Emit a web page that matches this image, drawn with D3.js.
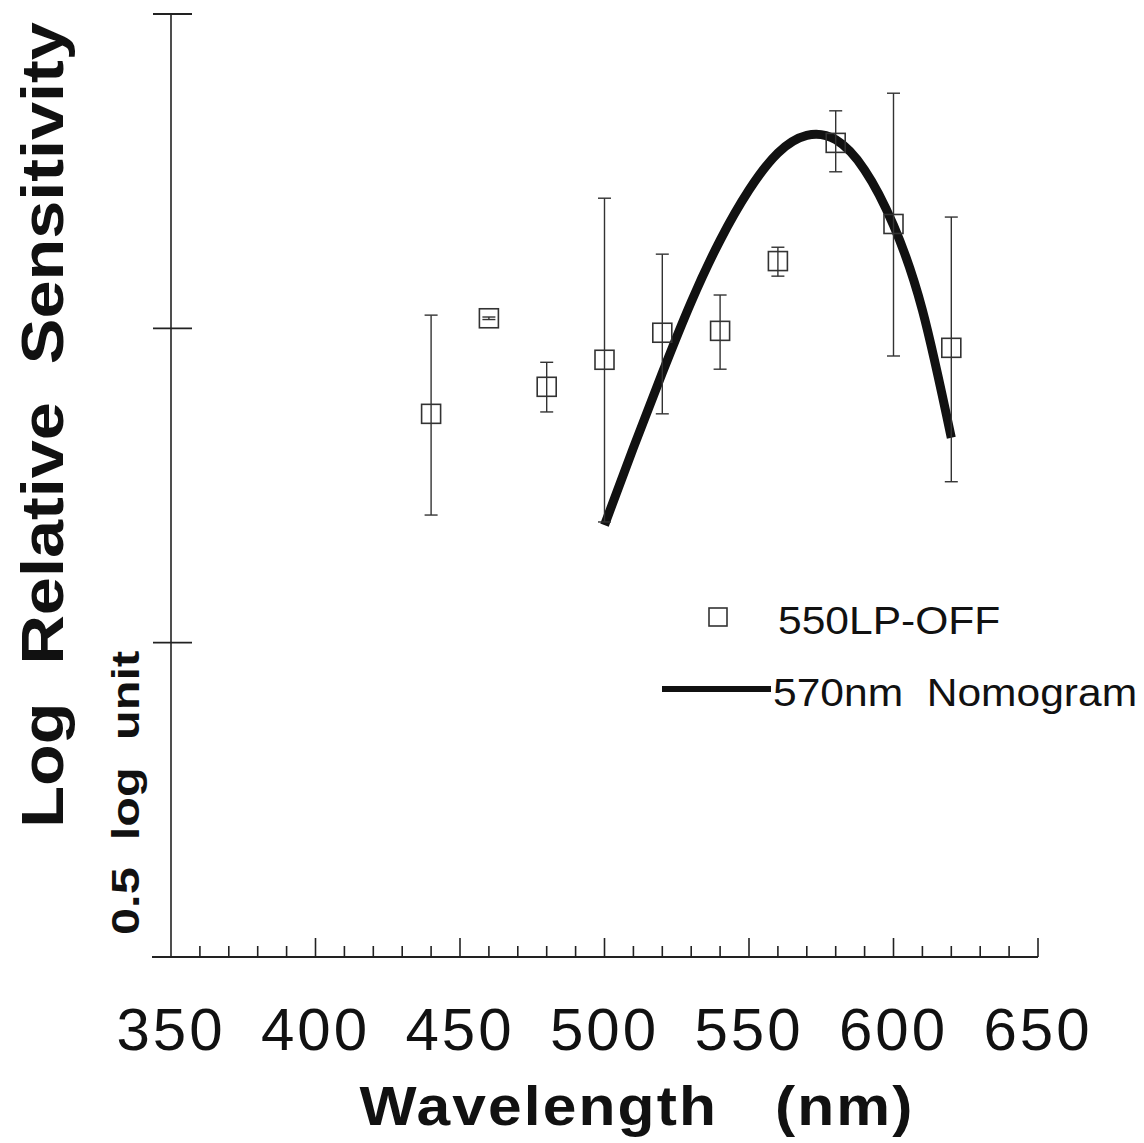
<!DOCTYPE html>
<html><head><meta charset="utf-8">
<script src="https://cdn.jsdelivr.net/npm/d3@7"></script>
<style>html,body{margin:0;padding:0;background:#fff;}svg{display:block;}</style>
</head><body>
<script>
// Data
const wavelengths = [440, 460, 480, 500, 520, 540, 560, 580, 600, 620];
const sensitivity = [0.864, 1.016, 0.907, 0.950, 0.993, 0.996, 1.107, 1.295, 1.166, 0.969];
const errHigh     = [1.021, 1.018, 0.946, 1.207, 1.118, 1.053, 1.129, 1.346, 1.374, 1.177];
const errLow      = [0.703, 1.014, 0.867, 0.692, 0.864, 0.935, 1.083, 1.249, 0.956, 0.756];
const nomoWl  = [500, 510, 520, 530, 540, 550, 560, 570, 580, 590, 600, 610, 620];
const nomoVal = [0.687, 0.810, 0.929, 1.042, 1.140, 1.220, 1.279, 1.307, 1.300, 1.252, 1.164, 1.029, 0.826];
const xTickLabels = [350, 400, 450, 500, 550, 600, 650];
const yTicks = [0, 0.5, 1.0, 1.5];

const W = 1144, H = 1143;
const FONT = "Liberation Sans, Arial, sans-serif";
const svg = d3.select("body").append("svg").attr("width", W).attr("height", H);
const x = d3.scaleLinear().domain([350, 650]).range([171, 1038]);
const y = d3.scaleLinear().domain([0, 1.5]).range([957, 14]);

const axisColor = "#222";
// Y axis line
svg.append("line").attr("x1", x(350)).attr("x2", x(350)).attr("y1", y(1.5)).attr("y2", y(0))
  .attr("stroke", axisColor).attr("stroke-width", 1.6);
// Y ticks (crossing)
svg.selectAll(".ytick").data(yTicks.filter(d => d > 0)).enter().append("line")
  .attr("x1", x(350) - 18).attr("x2", x(350) + 21)
  .attr("y1", d => y(d)).attr("y2", d => y(d))
  .attr("stroke", axisColor).attr("stroke-width", 1.8);
// X axis line
svg.append("line").attr("x1", x(350) - 19).attr("x2", x(650)).attr("y1", y(0)).attr("y2", y(0))
  .attr("stroke", axisColor).attr("stroke-width", 1.8);
// X ticks
const allTicks = d3.range(360, 651, 10);
svg.selectAll(".xtick").data(allTicks).enter().append("line")
  .attr("x1", d => x(d)).attr("x2", d => x(d))
  .attr("y1", y(0)).attr("y2", d => y(0) - (d % 50 === 0 ? 19 : 11))
  .attr("stroke", axisColor).attr("stroke-width", 1.6);
// X tick labels
svg.selectAll(".xlab").data(xTickLabels).enter().append("text")
  .attr("x", d => x(d)).attr("y", 1050)
  .attr("text-anchor", "middle")
  .attr("font-family", FONT)
  .attr("font-size", 60).attr("letter-spacing", 3).attr("fill", "#111")
  .text(d => d);
// X title
svg.append("text").attr("transform", "translate(637,1125) scale(1.08,1)").attr("text-anchor", "middle")
  .attr("font-family", FONT).attr("font-weight", "bold")
  .attr("font-size", 56).attr("letter-spacing", 2).attr("fill", "#111")
  .style("white-space", "pre")
  .text("Wavelength   (nm)");
// Y title
svg.append("text").attr("transform", "translate(63,425) rotate(-90) scale(1.14,1)")
  .attr("text-anchor", "middle")
  .attr("font-family", FONT).attr("font-weight", "bold")
  .attr("font-size", 60).attr("fill", "#111")
  .style("white-space", "pre")
  .text("Log  Relative  Sensitivity");
// 0.5 log unit label
svg.append("text").attr("transform", "translate(139,935) rotate(-90) scale(1.25,1)")
  .attr("text-anchor", "start")
  .attr("font-family", FONT).attr("font-weight", "bold")
  .attr("font-size", 39).attr("fill", "#111")
  .style("white-space", "pre")
  .text("0.5  log  unit");

// Nomogram curve
const line = d3.line().x((d, i) => x(nomoWl[i])).y(d => y(d)).curve(d3.curveNatural);
svg.append("path").datum(nomoVal).attr("d", line)
  .attr("fill", "none").attr("stroke", "#111").attr("stroke-width", 9).attr("stroke-linecap", "butt");

// Error bars
const cap = 6.5;
const g = svg.append("g").attr("stroke", "#333").attr("stroke-width", 1.4).attr("fill", "none");
wavelengths.forEach((w, i) => {
  const cx = x(w);
  g.append("line").attr("x1", cx).attr("x2", cx).attr("y1", y(errHigh[i])).attr("y2", y(errLow[i]));
  g.append("line").attr("x1", cx - cap).attr("x2", cx + cap).attr("y1", y(errHigh[i])).attr("y2", y(errHigh[i]));
  g.append("line").attr("x1", cx - cap).attr("x2", cx + cap).attr("y1", y(errLow[i])).attr("y2", y(errLow[i]));
});
// Squares
const s = 19;
svg.selectAll(".pt").data(wavelengths).enter().append("rect")
  .attr("x", d => x(d) - s / 2).attr("y", (d, i) => y(sensitivity[i]) - s / 2)
  .attr("width", s).attr("height", s)
  .attr("fill", "none").attr("stroke", "#333").attr("stroke-width", 1.6);

// Legend
svg.append("rect").attr("x", 709).attr("y", 608).attr("width", 18).attr("height", 18)
  .attr("fill", "none").attr("stroke", "#333").attr("stroke-width", 1.6);
svg.append("text").attr("transform", "translate(778,634) scale(1.12,1)")
  .attr("font-family", FONT).attr("font-size", 38).attr("fill", "#111")
  .text("550LP-OFF");
svg.append("line").attr("x1", 662).attr("x2", 771).attr("y1", 689).attr("y2", 689)
  .attr("stroke", "#111").attr("stroke-width", 6);
svg.append("text").attr("transform", "translate(773,706) scale(1.12,1)")
  .attr("font-family", FONT).attr("font-size", 38).attr("fill", "#111")
  .style("white-space", "pre")
  .text("570nm  Nomogram");
</script>
</body></html>
